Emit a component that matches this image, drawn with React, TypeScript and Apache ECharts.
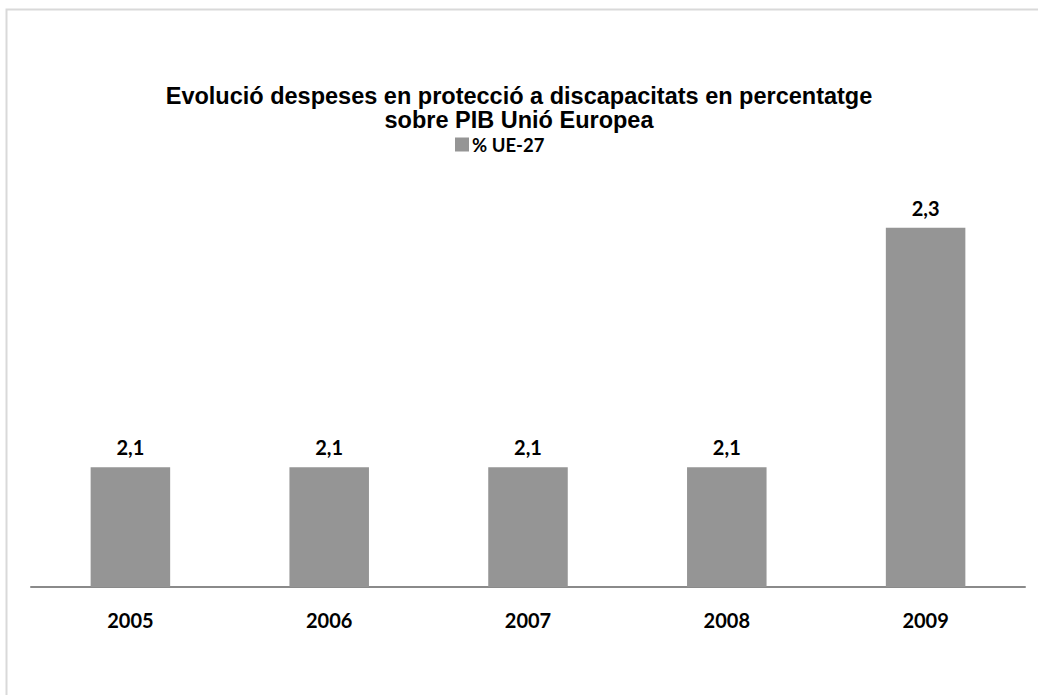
import React, { useEffect, useRef } from "react";
import * as echarts from "echarts";

const categories = ["2005", "2006", "2007", "2008", "2009"];
const values = [2.1, 2.1, 2.1, 2.1, 2.3];
const seriesName = "% UE-27";
const titleLines = [
  "Evolució despeses en protecció a discapacitats en percentatge",
  "sobre PIB Unió Europea",
];

export default function App() {
  const ref = useRef<HTMLDivElement>(null);
  useEffect(() => {
    if (!ref.current) return;
    const chart = echarts.init(ref.current, undefined, { renderer: "svg" });
    const titleStyle = {
      fontFamily: "Liberation Sans",
      fontWeight: "bold",
      fontSize: 23.5,
      lineHeight: 23.5,
      color: "#000000",
    };
    chart.setOption({
      animation: false,
      backgroundColor: "#ffffff",
      title: titleLines.map((t, i) => ({
        text: t,
        left: "center",
        top: 84 + i * 24.5,
        padding: 0,
        textStyle: titleStyle,
      })),
      legend: {
        top: 135,
        left: 455,
        padding: 0,
        itemWidth: 14,
        itemHeight: 14,
        itemGap: 4,
        icon: "rect",
        textStyle: {
          fontFamily: "Lato",
          fontWeight: "bold",
          fontSize: 18.5,
          lineHeight: 14,
          color: "#000",
          padding: [0, 0, 0, -2],
        },
        data: [seriesName],
      },
      graphic: [
        {
          type: "rect",
          shape: { x: 6.5, y: 9.5, width: 1100, height: 800 },
          style: { fill: "none", stroke: "#d9d9d9", lineWidth: 2 },
          silent: true,
        },
      ],
      grid: { left: 31, right: 13, top: 168, bottom: 108, containLabel: false },
      xAxis: {
        type: "category",
        data: categories,
        axisLine: { show: true, lineStyle: { color: "#8a8a8a", width: 2 } },
        axisTick: { show: false },
        axisLabel: {
          margin: 23,
          fontFamily: "Lato",
          fontWeight: "bold",
          fontSize: 20,
          color: "#000",
        },
      },
      yAxis: {
        type: "value",
        min: 2.0,
        max: 2.35,
        show: false,
        splitLine: { show: false },
      },
      series: [
        {
          name: seriesName,
          type: "bar",
          data: values,
          barWidth: "40%",
          itemStyle: { color: "#959595" },
          label: {
            show: true,
            position: "top",
            distance: 10,
            formatter: (p: any) => String(p.value.toFixed(1)).replace(".", ","),
            fontFamily: "Lato",
            fontWeight: "bold",
            fontSize: 20,
            color: "#000",
          },
        },
      ],
    });
    return () => chart.dispose();
  }, []);
  return (
    <div
      ref={ref}
      style={{ position: "fixed", left: 0, top: 0, width: 1038, height: 695 }}
    />
  );
}
